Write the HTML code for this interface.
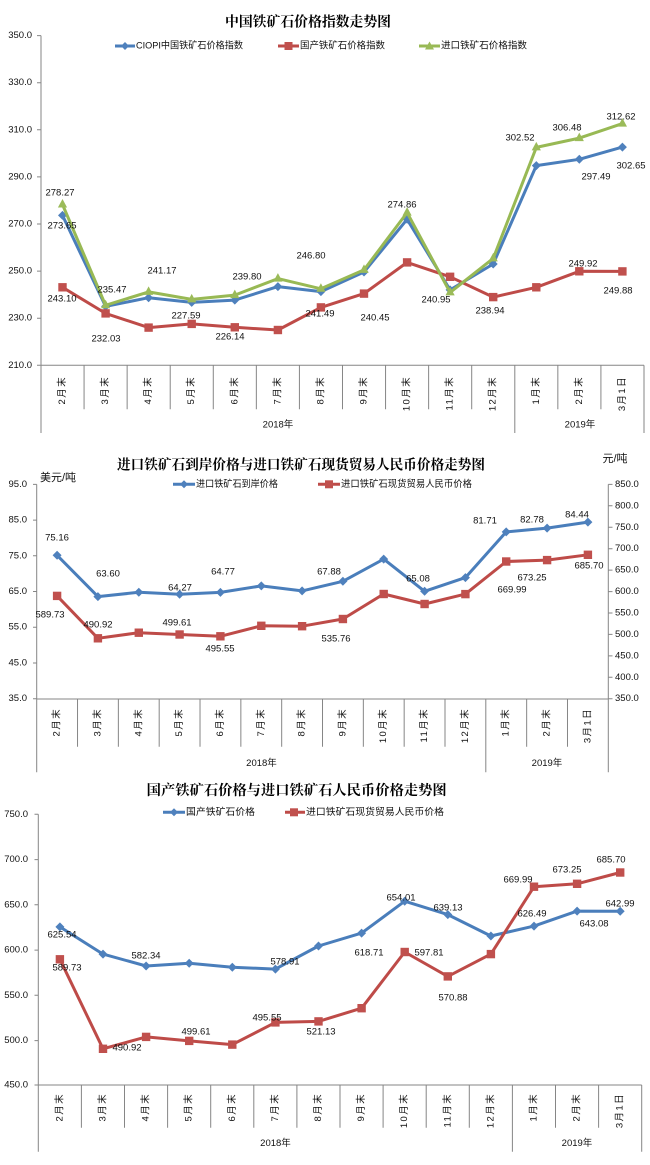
<!DOCTYPE html>
<html><head><meta charset="utf-8"><style>
html,body{margin:0;padding:0;background:#fff;}
svg{display:block;}
text{font-family:"Liberation Sans","Noto Sans CJK SC",sans-serif;fill:#111;}
.t{font-family:"Liberation Serif","Noto Serif CJK SC",serif;font-weight:bold;font-size:14px;fill:#000;}
.lg{font-size:9.5px;}
.dl{font-size:9.5px;}
.yl{font-size:9.5px;}
.cat{font-size:9.5px;letter-spacing:1.4px;}
.ax{stroke:#868686;stroke-width:1;fill:none;}
.lb{stroke:#4A7EBB;stroke-width:3;fill:none;stroke-linejoin:round;marker-start:url(#dia);marker-mid:url(#dia);marker-end:url(#dia);}
.lr{stroke:#BE4B48;stroke-width:3;fill:none;stroke-linejoin:round;marker-start:url(#sq);marker-mid:url(#sq);marker-end:url(#sq);}
.lgn{stroke:#98B954;stroke-width:3;fill:none;stroke-linejoin:round;marker-start:url(#tri);marker-mid:url(#tri);marker-end:url(#tri);}
</style></head><body>
<svg width="650" height="1165" viewBox="0 0 650 1165" xmlns="http://www.w3.org/2000/svg">
<defs>
<marker id="dia" markerWidth="10" markerHeight="10" refX="5" refY="5" markerUnits="userSpaceOnUse"><path d="M5 0.5L9.5 5L5 9.5L0.5 5Z" fill="#4F81BD"/></marker>
<marker id="sq" markerWidth="10" markerHeight="10" refX="5" refY="5" markerUnits="userSpaceOnUse"><rect x="0.8" y="0.8" width="8.4" height="8.4" fill="#C0504D"/></marker>
<marker id="tri" markerWidth="10" markerHeight="10" refX="5" refY="6" markerUnits="userSpaceOnUse"><path d="M5 0.5L9.6 9L0.4 9Z" fill="#9BBB59"/></marker>
</defs>
<rect width="650" height="1165" fill="#fff"/>

<!-- ============ CHART 1 ============ -->
<text class="t" x="308" y="23" text-anchor="middle" dominant-baseline="central" textLength="166" lengthAdjust="spacingAndGlyphs">中国铁矿石价格指数走势图</text>
<!-- legend -->
<line x1="115" y1="46" x2="135" y2="46" stroke="#4A7EBB" stroke-width="3"/><path d="M125 42L129 46L125 50L121 46Z" fill="#4F81BD"/>
<text class="lg" x="136" y="46" dominant-baseline="central" textLength="107" lengthAdjust="spacingAndGlyphs">CIOPI中国铁矿石价格指数</text>
<line x1="278" y1="46" x2="299" y2="46" stroke="#BE4B48" stroke-width="3"/><rect x="284.5" y="42" width="8" height="8" fill="#C0504D"/>
<text class="lg" x="300" y="46" dominant-baseline="central" textLength="85" lengthAdjust="spacingAndGlyphs">国产铁矿石价格指数</text>
<line x1="419" y1="46" x2="440" y2="46" stroke="#98B954" stroke-width="3"/><path d="M429.5 41.5L434 49.5L425 49.5Z" fill="#9BBB59"/>
<text class="lg" x="441" y="46" dominant-baseline="central" textLength="86" lengthAdjust="spacingAndGlyphs">进口铁矿石价格指数</text>
<!-- axes -->
<path class="ax" d="M41 35.6V433M37 35.6H41M37 82.7H41M37 129.8H41M37 176.9H41M37 224H41M37 271.1H41M37 318.2H41M37 365.3H41M41 365.3H644"/>
<path class="ax" d="M84.07 365.3V409.3M127.14 365.3V409.3M170.21 365.3V409.3M213.28 365.3V409.3M256.35 365.3V409.3M299.42 365.3V409.3M342.49 365.3V409.3M385.56 365.3V409.3M428.63 365.3V409.3M471.7 365.3V409.3M514.8 365.3V433M557.84 365.3V409.3M600.91 365.3V409.3M644 365.3V433"/>
<g class="yl" text-anchor="end">
<text x="32" y="35.6" dominant-baseline="central">350.0</text>
<text x="32" y="82.7" dominant-baseline="central">330.0</text>
<text x="32" y="129.8" dominant-baseline="central">310.0</text>
<text x="32" y="176.9" dominant-baseline="central">290.0</text>
<text x="32" y="224" dominant-baseline="central">270.0</text>
<text x="32" y="271.1" dominant-baseline="central">250.0</text>
<text x="32" y="318.2" dominant-baseline="central">230.0</text>
<text x="32" y="365.3" dominant-baseline="central">210.0</text>
</g>
<g class="cat" text-anchor="end" dominant-baseline="central">
<text transform="translate(62.5,376) rotate(-90)">2月末</text>
<text transform="translate(105.6,376) rotate(-90)">3月末</text>
<text transform="translate(148.6,376) rotate(-90)">4月末</text>
<text transform="translate(191.7,376) rotate(-90)">5月末</text>
<text transform="translate(234.8,376) rotate(-90)">6月末</text>
<text transform="translate(277.9,376) rotate(-90)">7月末</text>
<text transform="translate(320.9,376) rotate(-90)">8月末</text>
<text transform="translate(364,376) rotate(-90)">9月末</text>
<text transform="translate(407.1,376) rotate(-90)">10月末</text>
<text transform="translate(450.1,376) rotate(-90)">11月末</text>
<text transform="translate(493.2,376) rotate(-90)">12月末</text>
<text transform="translate(536.3,376) rotate(-90)">1月末</text>
<text transform="translate(579.3,376) rotate(-90)">2月末</text>
<text transform="translate(622.4,376) rotate(-90)">3月1日</text>
</g>
<text class="yl" x="278" y="425" text-anchor="middle" dominant-baseline="central">2018年</text>
<text class="yl" x="580" y="425" text-anchor="middle" dominant-baseline="central">2019年</text>
<!-- series -->
<polyline class="lb" points="62.5,215.4 105.6,306.4 148.6,297.7 191.7,302.4 234.8,300.1 277.9,286.6 320.9,291.6 364,272 407.1,219.3 450.1,289.9 493.2,264 536.3,165.6 579.3,159.3 622.4,147.1"/>
<polyline class="lr" points="62.5,287.3 105.6,313.4 148.6,327.6 191.7,323.9 234.8,327.3 277.9,330 320.9,307.4 364,293.6 407.1,262.4 450.1,276.8 493.2,297.1 536.3,287.3 579.3,271.3 622.4,271.4"/>
<polyline class="lgn" points="62.5,204.5 105.6,305.3 148.6,291.9 191.7,299.4 234.8,295.1 277.9,278.6 320.9,288.8 364,269.9 407.1,212.6 450.1,292.4 493.2,258.4 536.3,147.4 579.3,138.1 622.4,123.6"/>
<g class="dl" text-anchor="middle" dominant-baseline="central">
<text x="60" y="193">278.27</text>
<text x="62" y="226">273.65</text>
<text x="62" y="299">243.10</text>
<text x="106" y="339">232.03</text>
<text x="112" y="290">235.47</text>
<text x="162" y="271">241.17</text>
<text x="186" y="316">227.59</text>
<text x="247" y="277">239.80</text>
<text x="230" y="337">226.14</text>
<text x="311" y="256">246.80</text>
<text x="320" y="314">241.49</text>
<text x="375" y="318">240.45</text>
<text x="402" y="205">274.86</text>
<text x="436" y="300">240.95</text>
<text x="490" y="311">238.94</text>
<text x="583" y="264">249.92</text>
<text x="618" y="291">249.88</text>
<text x="520" y="138">302.52</text>
<text x="567" y="128">306.48</text>
<text x="621" y="117">312.62</text>
<text x="596" y="177">297.49</text>
<text x="631" y="166">302.65</text>
</g>

<!-- ============ CHART 2 ============ -->
<text class="t" x="301" y="466" text-anchor="middle" dominant-baseline="central" textLength="368" lengthAdjust="spacingAndGlyphs">进口铁矿石到岸价格与进口铁矿石现货贸易人民币价格走势图</text>
<text x="58" y="478" text-anchor="middle" dominant-baseline="central" style="font-size:11px">美元/吨</text>
<text x="615" y="459" text-anchor="middle" dominant-baseline="central" style="font-size:11px">元/吨</text>
<line x1="173" y1="484.3" x2="195" y2="484.3" stroke="#4A7EBB" stroke-width="3"/><path d="M184 480.3L188 484.3L184 488.3L180 484.3Z" fill="#4F81BD"/>
<text class="lg" x="196" y="484.3" dominant-baseline="central" textLength="82" lengthAdjust="spacingAndGlyphs">进口铁矿石到岸价格</text>
<line x1="318" y1="484.3" x2="340" y2="484.3" stroke="#BE4B48" stroke-width="3"/><rect x="325" y="480.3" width="8" height="8" fill="#C0504D"/>
<text class="lg" x="341" y="484.3" dominant-baseline="central" textLength="131" lengthAdjust="spacingAndGlyphs">进口铁矿石现货贸易人民币价格</text>
<path class="ax" d="M36.7 484.4V772.3M33 484.4H36.7M33 520.1H36.7M33 555.8H36.7M33 591.5H36.7M33 627.2H36.7M33 663H36.7M33 698.7H36.7M36.7 699H608.3"/>
<path class="ax" d="M608.3 484.4V772.3M608.3 484.4H612.5M608.3 505.8H612.5M608.3 527.3H612.5M608.3 548.7H612.5M608.3 570.1H612.5M608.3 591.6H612.5M608.3 613H612.5M608.3 634.4H612.5M608.3 655.9H612.5M608.3 677.3H612.5M608.3 698.7H612.5"/>
<path class="ax" d="M77.53 699V746.7M118.36 699V746.7M159.19 699V746.7M200.02 699V746.7M240.85 699V746.7M281.68 699V746.7M322.51 699V746.7M363.34 699V746.7M404.17 699V746.7M445 699V746.7M485.8 699V772.3M526.66 699V746.7M567.49 699V746.7"/>
<g class="yl" text-anchor="end">
<text x="27" y="484.4" dominant-baseline="central">95.0</text>
<text x="27" y="520.1" dominant-baseline="central">85.0</text>
<text x="27" y="555.8" dominant-baseline="central">75.0</text>
<text x="27" y="591.5" dominant-baseline="central">65.0</text>
<text x="27" y="627.2" dominant-baseline="central">55.0</text>
<text x="27" y="663" dominant-baseline="central">45.0</text>
<text x="27" y="698.7" dominant-baseline="central">35.0</text>
</g>
<g class="yl">
<text x="615" y="484.4" dominant-baseline="central">850.0</text>
<text x="615" y="505.8" dominant-baseline="central">800.0</text>
<text x="615" y="527.3" dominant-baseline="central">750.0</text>
<text x="615" y="548.7" dominant-baseline="central">700.0</text>
<text x="615" y="570.1" dominant-baseline="central">650.0</text>
<text x="615" y="591.6" dominant-baseline="central">600.0</text>
<text x="615" y="613" dominant-baseline="central">550.0</text>
<text x="615" y="634.4" dominant-baseline="central">500.0</text>
<text x="615" y="655.9" dominant-baseline="central">450.0</text>
<text x="615" y="677.3" dominant-baseline="central">400.0</text>
<text x="615" y="698.7" dominant-baseline="central">350.0</text>
</g>
<g class="cat" text-anchor="end" dominant-baseline="central">
<text transform="translate(57.1,708) rotate(-90)">2月末</text>
<text transform="translate(97.9,708) rotate(-90)">3月末</text>
<text transform="translate(138.8,708) rotate(-90)">4月末</text>
<text transform="translate(179.6,708) rotate(-90)">5月末</text>
<text transform="translate(220.4,708) rotate(-90)">6月末</text>
<text transform="translate(261.3,708) rotate(-90)">7月末</text>
<text transform="translate(302.1,708) rotate(-90)">8月末</text>
<text transform="translate(342.9,708) rotate(-90)">9月末</text>
<text transform="translate(383.7,708) rotate(-90)">10月末</text>
<text transform="translate(424.6,708) rotate(-90)">11月末</text>
<text transform="translate(465.4,708) rotate(-90)">12月末</text>
<text transform="translate(506.2,708) rotate(-90)">1月末</text>
<text transform="translate(547.1,708) rotate(-90)">2月末</text>
<text transform="translate(587.9,708) rotate(-90)">3月1日</text>
</g>
<text class="yl" x="261.5" y="763.5" text-anchor="middle" dominant-baseline="central">2018年</text>
<text class="yl" x="547" y="763.5" text-anchor="middle" dominant-baseline="central">2019年</text>
<polyline class="lb" points="57.1,555.3 97.9,596.6 138.8,592.3 179.6,594.2 220.4,592.4 261.3,585.9 302.1,590.9 342.9,581.3 383.7,559.1 424.6,591.3 465.4,577.6 506.2,531.9 547.1,528.1 587.9,522.1"/>
<polyline class="lr" points="57.1,595.9 97.9,638.3 138.8,632.7 179.6,634.5 220.4,636.3 261.3,625.8 302.1,626.2 342.9,619 383.7,594 424.6,604 465.4,594.1 506.2,561.5 547.1,560.1 587.9,554.8"/>
<g class="dl" text-anchor="middle" dominant-baseline="central">
<text x="57" y="538">75.16</text>
<text x="108" y="574">63.60</text>
<text x="180" y="588">64.27</text>
<text x="223" y="572">64.77</text>
<text x="329" y="572">67.88</text>
<text x="418" y="579">65.08</text>
<text x="485" y="521">81.71</text>
<text x="532" y="520">82.78</text>
<text x="577" y="515">84.44</text>
<text x="50" y="615">589.73</text>
<text x="98" y="625">490.92</text>
<text x="177" y="623">499.61</text>
<text x="220" y="649">495.55</text>
<text x="336" y="639">535.76</text>
<text x="512" y="590">669.99</text>
<text x="532" y="578">673.25</text>
<text x="589" y="566">685.70</text>
</g>

<!-- ============ CHART 3 ============ -->
<text class="t" x="296.7" y="791.7" text-anchor="middle" dominant-baseline="central" textLength="300" lengthAdjust="spacingAndGlyphs">国产铁矿石价格与进口铁矿石人民币价格走势图</text>
<line x1="163" y1="812.3" x2="185" y2="812.3" stroke="#4A7EBB" stroke-width="3"/><path d="M174 808.3L178 812.3L174 816.3L170 812.3Z" fill="#4F81BD"/>
<text class="lg" x="186" y="812.3" dominant-baseline="central" textLength="69" lengthAdjust="spacingAndGlyphs">国产铁矿石价格</text>
<line x1="285" y1="812.3" x2="305" y2="812.3" stroke="#BE4B48" stroke-width="3"/><rect x="290" y="808.3" width="8" height="8" fill="#C0504D"/>
<text class="lg" x="306" y="812.3" dominant-baseline="central" textLength="138" lengthAdjust="spacingAndGlyphs">进口铁矿石现货贸易人民币价格</text>
<path class="ax" d="M38.3 814.3V1151.7M34.5 814.3H38.3M34.5 859.6H38.3M34.5 904.8H38.3M34.5 950.1H38.3M34.5 995.3H38.3M34.5 1040.6H38.3M34.5 1085H38.3M38.3 1085H641.7"/>
<path class="ax" d="M81.4 1085V1127.7M124.5 1085V1127.7M167.6 1085V1127.7M210.7 1085V1127.7M253.8 1085V1127.7M296.9 1085V1127.7M340 1085V1127.7M383.1 1085V1127.7M426.2 1085V1127.7M469.3 1085V1127.7M512.4 1085V1151.7M555.5 1085V1127.7M598.6 1085V1127.7M641.7 1085V1151.7"/>
<g class="yl" text-anchor="end">
<text x="28" y="814.3" dominant-baseline="central">750.0</text>
<text x="28" y="859.6" dominant-baseline="central">700.0</text>
<text x="28" y="904.8" dominant-baseline="central">650.0</text>
<text x="28" y="950.1" dominant-baseline="central">600.0</text>
<text x="28" y="995.3" dominant-baseline="central">550.0</text>
<text x="28" y="1040.6" dominant-baseline="central">500.0</text>
<text x="28" y="1085" dominant-baseline="central">450.0</text>
</g>
<g class="cat" text-anchor="end" dominant-baseline="central">
<text transform="translate(59.9,1093) rotate(-90)">2月末</text>
<text transform="translate(103,1093) rotate(-90)">3月末</text>
<text transform="translate(146.1,1093) rotate(-90)">4月末</text>
<text transform="translate(189.2,1093) rotate(-90)">5月末</text>
<text transform="translate(232.3,1093) rotate(-90)">6月末</text>
<text transform="translate(275.4,1093) rotate(-90)">7月末</text>
<text transform="translate(318.5,1093) rotate(-90)">8月末</text>
<text transform="translate(361.6,1093) rotate(-90)">9月末</text>
<text transform="translate(404.7,1093) rotate(-90)">10月末</text>
<text transform="translate(447.8,1093) rotate(-90)">11月末</text>
<text transform="translate(490.9,1093) rotate(-90)">12月末</text>
<text transform="translate(534,1093) rotate(-90)">1月末</text>
<text transform="translate(577.1,1093) rotate(-90)">2月末</text>
<text transform="translate(620.2,1093) rotate(-90)">3月1日</text>
</g>
<text class="yl" x="275.5" y="1143.5" text-anchor="middle" dominant-baseline="central">2018年</text>
<text class="yl" x="577" y="1143.5" text-anchor="middle" dominant-baseline="central">2019年</text>
<polyline class="lb" points="59.9,926.9 103,954.1 146.1,966 189.2,963.2 232.3,967.2 275.4,969.1 318.5,946 361.6,933.1 404.7,901.2 447.8,914.6 490.9,936 534,926.1 577.1,911.1 620.2,911.2"/>
<polyline class="lr" points="59.9,959.3 103,1048.8 146.1,1036.9 189.2,1040.9 232.3,1044.6 275.4,1022.4 318.5,1021.4 361.6,1008.2 404.7,952 447.8,976.4 490.9,954.1 534,886.7 577.1,883.8 620.2,872.5"/>
<g class="dl" text-anchor="middle" dominant-baseline="central">
<text x="62" y="935">625.54</text>
<text x="67" y="968">589.73</text>
<text x="146" y="956">582.34</text>
<text x="285" y="962">578.91</text>
<text x="369" y="953">618.71</text>
<text x="401" y="898">654.01</text>
<text x="448" y="908">639.13</text>
<text x="429" y="953">597.81</text>
<text x="518" y="880">669.99</text>
<text x="532" y="914">626.49</text>
<text x="567" y="870">673.25</text>
<text x="611" y="860">685.70</text>
<text x="594" y="924">643.08</text>
<text x="620" y="904">642.99</text>
<text x="127" y="1048">490.92</text>
<text x="196" y="1032">499.61</text>
<text x="267" y="1018">495.55</text>
<text x="321" y="1032">521.13</text>
<text x="453" y="998">570.88</text>
</g>
</svg>
</body></html>
